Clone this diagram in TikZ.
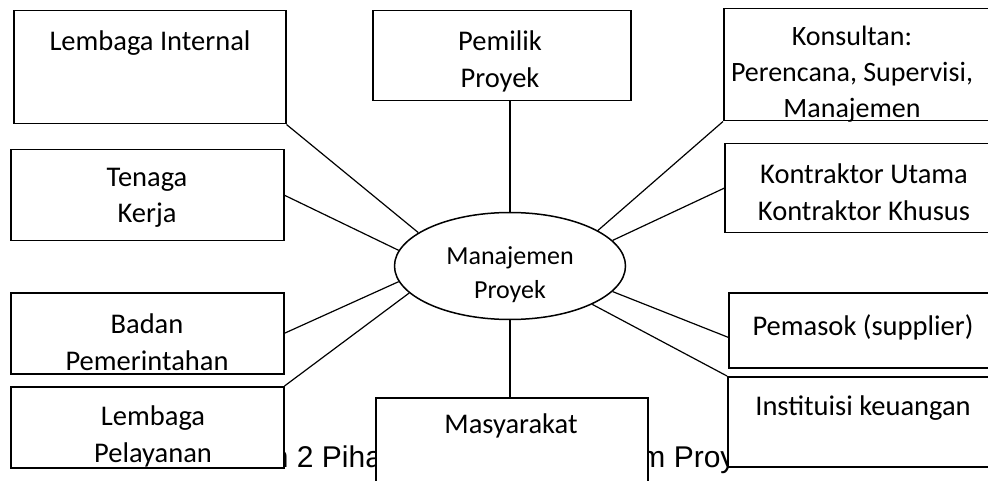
\documentclass[tikz,border=0pt]{standalone}
\usepackage{fontspec}
\setmainfont{Carlito}
\newfontfamily\capfont{Liberation Sans}
\usetikzlibrary{shapes.geometric}

\tikzset{
  party/.style={draw, line width=1.5pt, fill=white, anchor=north west, inner sep=0pt},
  partytext/.style={anchor=north, align=center, inner sep=0pt, font=\fontsize{28.5}{36.5}\selectfont},
  link/.style={line width=1.2pt},
}

\begin{document}
\begin{tikzpicture}[x=1pt, y=-1pt]
  \useasboundingbox (0,0) rectangle (988,481);
  \clip (0,0) rectangle (988,481);
  % caption, partly hidden by the boxes
  \node[anchor=base west, inner sep=0pt, font=\capfont\fontsize{30}{34}\selectfont] (caption) at (170,467) {Susunan 2 Pihak yang Terlibat dalam Proyek Konstruksi};

  % boxes round the centre
  \node[party, minimum width=272, minimum height=113] (intl) at (13,10) {};
  \node[party, minimum width=258, minimum height=90] (owner) at (372,10) {};
  \node[party, minimum width=272, minimum height=112] (cons) at (723,8) {};
  \node[party, minimum width=273, minimum height=91] (labor) at (10,149) {};
  \node[party, minimum width=271, minimum height=89] (contr) at (724,143) {};
  \node[party, minimum width=273, minimum height=81] (gov) at (10,292) {};
  \node[party, minimum width=273, minimum height=81] (serv) at (10,386) {};
  \node[party, minimum width=272, minimum height=100] (soc) at (375,397) {};
  \node[party, minimum width=267, minimum height=75] (supp) at (728,292) {};
  \node[party, minimum width=268, minimum height=90] (fin) at (727,376) {};
  \node[draw, ellipse, line width=1.5pt, fill=white, inner sep=0pt, minimum width=231, minimum height=107] (mgmt) at (510,266) {};

  % texts
  \node[partytext] (intltxt) at (150,31) {Lembaga Internal};
  \node[partytext] (ownertxt) at (500,31) {Pemilik\\Proyek};
  \node[partytext, font=\fontsize{28}{36}\selectfont] (constxt) at (852,26) {Konsultan:\\Perencana, Supervisi,\\Manajemen};
  \node[partytext] (labortxt) at (147,168) {Tenaga\\Kerja};
  \node[partytext] (contrtxt) at (864,164) {Kontraktor Utama\\Kontraktor Khusus};
  \node[partytext] (govtxt) at (147,314) {Badan\\Pemerintahan};
  \node[partytext] (servtxt) at (153,406) {Lembaga\\Pelayanan};
  \node[partytext] (soctxt) at (511,414) {Masyarakat};
  \node[partytext] (supptxt) at (863,314) {Pemasok (supplier)};
  \node[partytext] (fintxt) at (863,396) {Instituisi keuangan};
  \node[partytext, font=\fontsize{26}{34}\selectfont] (mgmttxt) at (510,246) {Manajemen\\Proyek};

  % connectors
  \draw[link] (intl.south east) -- (mgmt.160.7);
  \draw[link] (mgmt.north |- owner.south) -- (mgmt.north);
  \draw[link] (cons.south west) -- (mgmt.22);
  \draw[link] (labor.east) -- (mgmt.172);
  \draw[link] (contr.west) -- (mgmt.14);
  \draw[link] (gov.east) -- (mgmt.188.6);
  \draw[link] (serv.north east) -- (mgmt.195);
  \draw[link] (mgmt.south) -- (mgmt.south |- soc.north);
  \draw[link] ([yshift=-7pt]supp.west) -- (mgmt.-14);
  \draw[link] (fin.north west) -- (mgmt.-25);
\end{tikzpicture}
\end{document}
